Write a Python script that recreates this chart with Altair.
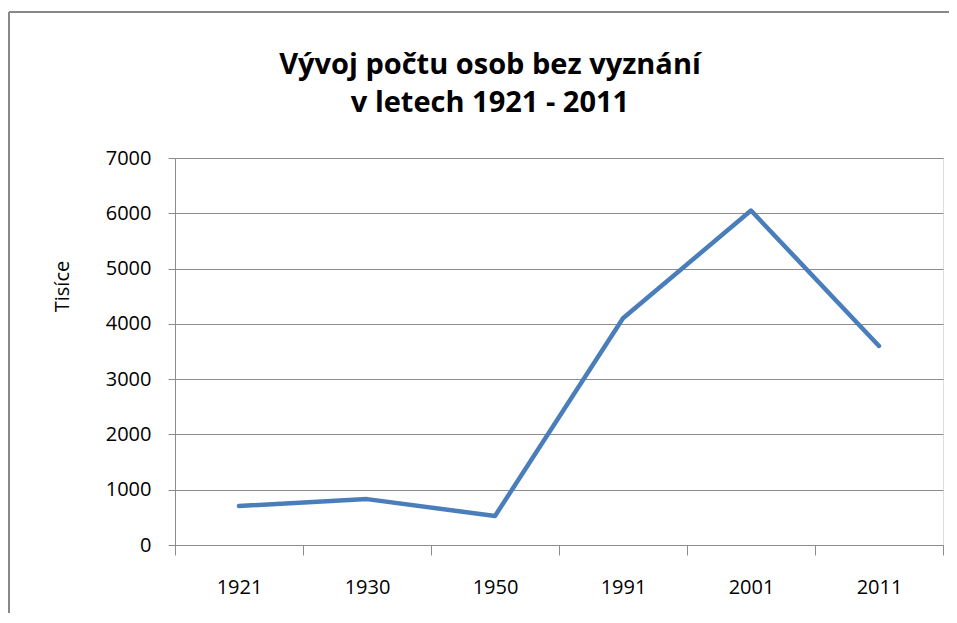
import altair as alt
import pandas as pd

years = ["1921", "1930", "1950", "1991", "2001", "2011"]
values = [705, 830, 525, 4100, 6050, 3600]
title_lines = ["Vývoj počtu osob bez vyznání", "v letech 1921 - 2011"]

df = pd.DataFrame({"rok": years, "pocet": values})

FONT = "Open Sans"
GRID = "#8c8c8c"

W, H = 768, 387

line = alt.Chart(df).mark_line(color="#4a7ebb", strokeWidth=4.5, strokeCap="round", strokeJoin="round").encode(
    x=alt.X("rok:N", sort=years,
            scale=alt.Scale(type="band", paddingInner=0, paddingOuter=0),
            axis=alt.Axis(title=None, labelAngle=0, tickBand="extent", tickSize=10,
                          labelPadding=22, labelFontSize=20, labelFont=FONT, labelColor="#000000",
                          domainColor=GRID, tickColor=GRID, grid=False)),
    y=alt.Y("pocet:Q",
            scale=alt.Scale(domain=[0, 7000], nice=False),
            axis=alt.Axis(title="Tisíce", values=list(range(0, 7001, 1000)), format="d", tickSize=7,
                          labelPadding=17, labelFontSize=20, labelFont=FONT, labelColor="#000000",
                          titleFont=FONT, titleFontSize=20, titleFontWeight="normal", titleColor="#000000",
                          titleX=-113, titleY=128, titleAngle=-90, titleAlign="center", titleBaseline="middle",
                          domainColor=GRID, tickColor=GRID, gridColor=GRID, grid=True)),
)

one = alt.Data(values=[{"a": 1}])
border_left = alt.Chart(one).mark_rule(color="#888888", strokeWidth=2).encode(
    x=alt.value(-166), y=alt.value(-146), y2=alt.value(H + 80))
border_top = alt.Chart(one).mark_rule(color="#888888", strokeWidth=2).encode(
    y=alt.value(-146), x=alt.value(-166), x2=alt.value(W + 20))

t1 = alt.Chart(one).mark_text(font=FONT, fontSize=29, fontWeight="bold", color="#000000",
                              align="center", baseline="alphabetic").encode(
    x=alt.value(315), y=alt.value(-84), text=alt.value(title_lines[0]))
t2 = alt.Chart(one).mark_text(font=FONT, fontSize=29, fontWeight="bold", color="#000000",
                              align="center", baseline="alphabetic").encode(
    x=alt.value(315), y=alt.value(-46), text=alt.value(title_lines[1]))

chart = alt.layer(border_left, border_top, line, t1, t2).properties(
    width=W, height=H,
    autosize=alt.AutoSizeParams(type="none"),
    padding={"left": 167, "top": 150, "right": 6, "bottom": 68},
).configure_view(stroke=None).configure(background="white")

chart.save("out.html", embed_options={"renderer": "svg", "actions": False})
